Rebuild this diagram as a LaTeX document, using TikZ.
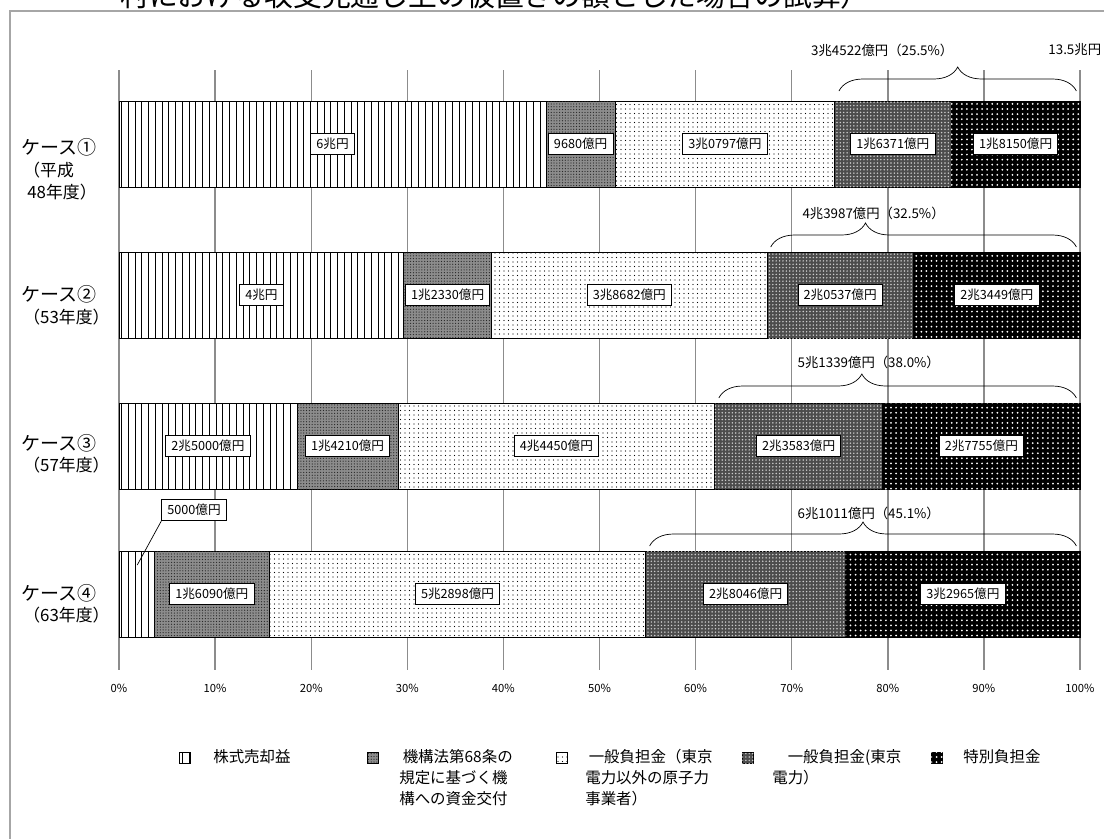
\documentclass[tikz,border=0pt]{standalone}
\usepackage{fontspec}
\setmainfont{Noto Sans CJK JP}
\usetikzlibrary{patterns.meta,decorations.pathreplacing,positioning}

\begin{document}
\begin{tikzpicture}[
x=0.025cm,y=-0.025cm,
frame/.style={draw=black!35,line width=1.2pt},
grid/.style={draw=black!45,line width=1pt},
seg/.style={draw=black,line width=0.6pt},
kabu/.style={seg,fill=white,postaction={pattern={Lines[angle=90,distance=4.8pt,line width=0.6pt]}}},
kikou/.style={seg,fill=black!45,postaction={pattern={Dots[distance=2pt,radius=0.45pt]},pattern color=black!85}},
ippan/.style={seg,fill=white,postaction={pattern={Dots[distance=3.2pt,radius=0.45pt]}}},
toden/.style={seg,fill=black!70,postaction={pattern={Dots[distance=2.4pt,radius=0.6pt]},pattern color=white!80!black}},
tokub/.style={seg,fill=black,postaction={pattern={Dots[distance=3.6pt,radius=0.7pt]},pattern color=white}},
lbl/.style={draw=black,fill=white,line width=0.6pt,font=\fontsize{9}{10}\selectfont,inner xsep=4pt,inner ysep=3.5pt},
case/.style={anchor=west,font=\fontsize{13.5}{15}\selectfont,inner sep=0pt},
sub/.style={anchor=west,font=\fontsize{12}{14}\selectfont,inner sep=0pt},
tick/.style={font=\fontsize{8}{9}\selectfont,inner sep=0pt},
sum/.style={font=\fontsize{9.5}{11}\selectfont,inner sep=0pt},
brc/.style={decorate,decoration={brace,amplitude=0.6cm,aspect=#1},line width=0.5pt},
brc/.default=0.5,
key/.style={draw=black,line width=0.5pt,minimum size=8pt,inner sep=0pt},
legend/.style={anchor=north west,align=left,inner sep=0pt,font=\fontsize{11}{15}\selectfont}
]
\useasboundingbox (0,0) rectangle (1104,838);

% title (cut off at the top)
\node[anchor=base west,inner sep=0pt,font=\fontsize{20.5}{22}\selectfont] (title) at (120,6)
{村における収支見通し上の仮置きの額とした場合の試算）};

% frame
\draw[frame] (10,850) -- (10,11) -- (1115,11);

% grid and axis
\foreach \p in {0,10,...,100}{
\draw[grid] ({119+9.61*\p},70) -- ({119+9.61*\p},670);
\node[tick] (t\p) at ({119+9.61*\p},688) {\p\%};
}

\begin{scope}[shift={(119,0)},x=0.24025cm]
% case 1
\path[kabu] (0,101) rectangle (44.45,187);
\path[kikou] (44.45,101) rectangle (51.62,187);
\path[ippan] (51.62,101) rectangle (74.43,187);
\path[toden] (74.43,101) rectangle (86.56,187);
\path[tokub] (86.56,101) rectangle (100,187);
\node[lbl] (a1) at (22.22,144) {6兆円};
\node[lbl] (a2) at (48.03,144) {9680億円};
\node[lbl] (a3) at (63.03,144) {3兆0797億円};
\node[lbl] (a4) at (80.50,144) {1兆6371億円};
\node[lbl] (a5) at (93.28,144) {1兆8150億円};

% case 2
\path[kabu] (0,252) rectangle (29.63,338);
\path[kikou] (29.63,252) rectangle (38.76,338);
\path[ippan] (38.76,252) rectangle (67.42,338);
\path[toden] (67.42,252) rectangle (82.63,338);
\path[tokub] (82.63,252) rectangle (100,338);
\node[lbl] (b1) at (14.82,295) {4兆円};
\node[lbl] (b2) at (34.20,295) {1兆2330億円};
\node[lbl] (b3) at (53.09,295) {3兆8682億円};
\node[lbl] (b4) at (75.03,295) {2兆0537億円};
\node[lbl] (b5) at (91.32,295) {2兆3449億円};

% case 3
\path[kabu] (0,403) rectangle (18.52,489);
\path[kikou] (18.52,403) rectangle (29.04,489);
\path[ippan] (29.04,403) rectangle (61.97,489);
\path[toden] (61.97,403) rectangle (79.44,489);
\path[tokub] (79.44,403) rectangle (100,489);
\node[lbl] (c1) at (9.26,446) {2兆5000億円};
\node[lbl] (c2) at (23.78,446) {1兆4210億円};
\node[lbl] (c3) at (45.50,446) {4兆4450億円};
\node[lbl] (c4) at (70.71,446) {2兆3583億円};
\node[lbl] (c5) at (89.72,446) {2兆7755億円};

% case 4
\path[kabu] (0,551) rectangle (3.70,637);
\path[kikou] (3.70,551) rectangle (15.62,637);
\path[ippan] (15.62,551) rectangle (54.81,637);
\path[toden] (54.81,551) rectangle (75.58,637);
\path[tokub] (75.58,551) rectangle (100,637);
\node[lbl] (d1) at (7.8,510) {5000億円};
\coordinate (d1p) at (1.9,565);
\draw[line width=0.5pt] (d1.south west) -- (d1p);
\node[lbl] (d2) at (9.66,594) {1兆6090億円};
\node[lbl] (d3) at (35.22,594) {5兆2898億円};
\node[lbl] (d4) at (65.20,594) {2兆8046億円};
\node[lbl] (d5) at (87.79,594) {3兆2965億円};

% braces over the burden parts
\draw[brc] (74.9,91) -- (99.6,91);
\node[sum] (s1) at (79.4,50) {3兆4522億円（25.5\%）};
\node[sum,anchor=east] (tot) at (102.2,50) {13.5兆円};
\draw[brc=0.31] (67.8,247) -- (99.6,247);
\node[sum] (s2) at (78.5,213) {4兆3987億円（32.5\%）};
\draw[brc=0.4] (62.4,398) -- (99.6,398);
\node[sum] (s3) at (78.0,362) {5兆1339億円（38.0\%）};
\draw[brc] (55.2,546) -- (99.6,546);
\node[sum] (s4) at (78.0,513) {6兆1011億円（45.1\%）};
\end{scope}

% case names
\node[case] (n1) at (21,147) {ケース①};
\node[sub] (n1a) at (23,170) {（平成};
\node[sub] (n1b) at (27,192) {48年度）};
\node[case] (n2) at (21,294) {ケース②};
\node[sub] (n2a) at (23,317) {（53年度）};
\node[case] (n3) at (21,443) {ケース③};
\node[sub] (n3a) at (23,465) {（57年度）};
\node[case] (n4) at (21,593) {ケース④};
\node[sub] (n4a) at (23,615) {（63年度）};

% legend
\node[key,kabu] (k1) at (185,758) {};
\node[legend] (l1) at (213,749) {株式売却益};
\node[key,kikou] (k2) at (373,758) {};
\node[legend] (l2) at (399,749) {\ 機構法第68条の\\規定に基づく機\\構への資金交付};
\node[key,ippan] (k3) at (562,758) {};
\node[legend] (l3) at (585,749) {\ 一般負担金（東京\\電力以外の原子力\\事業者）};
\node[key,toden] (k4) at (748,758) {};
\node[legend] (l4) at (772,749) {\quad 一般負担金(東京\\電力）};
\node[key,tokub] (k5) at (937,758) {};
\node[legend] (l5) at (963,749) {特別負担金};

\end{tikzpicture}
\end{document}
